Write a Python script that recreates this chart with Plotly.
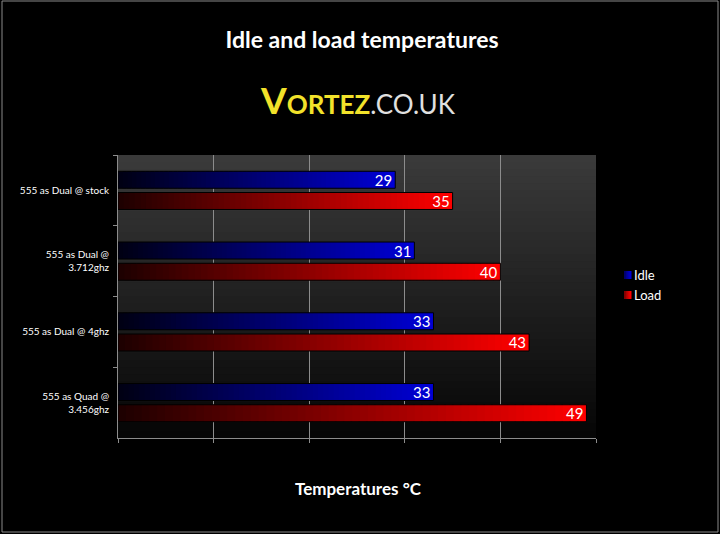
import plotly.graph_objects as go

# Idle / load temperatures (°C) per CPU configuration
configs = [
    "555 as Dual @ stock",
    "555 as Dual @<br>3.712ghz",
    "555 as Dual @ 4ghz",
    "555 as Quad @<br>3.456ghz",
]
idle_temps = [29, 31, 33, 33]
load_temps = [35, 40, 43, 49]

W, H = 720, 534
# plot area in px: x 118..596, y 155..438
L, T = 118, 155
R, B = W - 596, H - 438
PW, PH = W - L - R, H - T - B

N_SEG = 60  # slices per bar to fake the horizontal gradient


def lerp(c0, c1, f):
    return "rgb(%d,%d,%d)" % tuple(round(a + (b - a) * f) for a, b in zip(c0, c1))


def px_x(px):
    # page x pixel -> paper coordinate
    return (px - L) / PW


def px_y(py):
    # page y pixel -> paper coordinate
    return (H - B - py) / PH


def gradient_bar(values, name, c0, c1, group):
    traces = []
    for i in range(N_SEG):
        f = (i + 0.5) / N_SEG
        end = min(i + 1.8, N_SEG)  # overlap next slice to hide seams
        traces.append(go.Bar(
            y=configs,
            x=[v * (end - i) / N_SEG for v in values],
            base=[v * i / N_SEG for v in values],
            orientation="h",
            offsetgroup=group,
            marker=dict(color=lerp(c0, c1, f), line=dict(width=0)),
            name=name,
            showlegend=False,
            hoverinfo="skip",
        ))
    # outline + value label on top
    traces.append(go.Bar(
        y=configs,
        x=values,
        orientation="h",
        offsetgroup=group,
        marker=dict(color="rgba(0,0,0,0)", line=dict(color="#000000", width=1)),
        text=[str(v) for v in values],
        textposition="inside",
        insidetextanchor="end",
        textangle=0,
        constraintext="none",
        textfont=dict(color="white", size=15, family="Lato"),
        name=name,
        showlegend=False,
        hovertemplate="%{y}: %{x}°C<extra>" + name + "</extra>",
    ))
    return traces


IDLE_C0, IDLE_C1 = (0, 0, 18), (0, 0, 214)
LOAD_C0, LOAD_C1 = (28, 0, 0), (255, 0, 0)

fig = go.Figure()
for t in gradient_bar(idle_temps, "Idle", IDLE_C0, IDLE_C1, "idle"):
    fig.add_trace(t)
for t in gradient_bar(load_temps, "Load", LOAD_C0, LOAD_C1, "load"):
    fig.add_trace(t)

# plot area background: vertical grey -> black gradient
shapes = []
n_strips = 40
for k in range(n_strips):
    f = k / (n_strips - 1)
    g = round(58 - 52 * f)
    shapes.append(dict(
        type="rect", xref="x domain", yref="y domain",
        x0=0, x1=1,
        y0=max(0, 1 - (k + 1.6) / n_strips), y1=1 - k / n_strips,
        fillcolor="rgb(%d,%d,%d)" % (g, g, g), line=dict(width=0), layer="below",
    ))

# thin grey frame round the whole chart
shapes.append(dict(
    type="rect", xref="paper", yref="paper",
    x0=px_x(2), x1=px_x(W - 2), y0=px_y(H - 2), y1=px_y(1),
    line=dict(color="#8a8a8a", width=1), layer="above",
))

# small legend on the right (squares + labels)
annotations = []
legend_items = [("Idle", IDLE_C0, IDLE_C1, 275), ("Load", LOAD_C0, LOAD_C1, 295)]
for label, c0, c1, yc in legend_items:
    for j in range(4):
        shapes.append(dict(
            type="rect", xref="paper", yref="paper",
            x0=px_x(624 + j * 1.75), x1=px_x(624 + (j + 1) * 1.75 + 0.5),
            y0=px_y(yc + 4), y1=px_y(yc - 4),
            fillcolor=lerp(c0, c1, 0.45 + 0.55 * j / 3), line=dict(width=0),
        ))
    annotations.append(dict(
        text=label, xref="paper", yref="paper",
        x=px_x(632), y=px_y(yc), xanchor="left", yanchor="middle",
        showarrow=False, font=dict(size=13, color="white", family="Lato"),
    ))

annotations += [
    dict(
        text="<b><span style='color:#f2e22a;font-size:37px'>V</span>"
             "<span style='color:#f2e22a'>ORTEZ</span></b>"
             "<span style='color:#e0e0e0'>.CO.UK</span>",
        xref="paper", yref="paper",
        x=px_x(358), y=px_y(100),
        xanchor="center", yanchor="middle",
        showarrow=False,
        font=dict(size=26, family="Lato"),
    ),
    dict(
        text="<b>Temperatures °C</b>",
        xref="paper", yref="paper",
        x=px_x(358), y=px_y(488),
        xanchor="center", yanchor="middle",
        showarrow=False,
        font=dict(size=17, color="white", family="Lato"),
    ),
]

fig.update_layout(
    width=W, height=H,
    margin=dict(l=L, r=R, t=T, b=B),
    paper_bgcolor="black",
    plot_bgcolor="black",
    font=dict(family="Lato", color="white", size=10),
    barmode="group",
    bargap=0.4,
    bargroupgap=0.2,
    shapes=shapes,
    annotations=annotations,
    showlegend=False,
    title=dict(
        text="<b>Idle and load temperatures</b>",
        x=362 / W, xanchor="center",
        y=1 - 40 / H, yanchor="middle", yref="container",
        font=dict(size=23, color="white", family="Lato"),
    ),
)

fig.update_xaxes(
    range=[0, 50], dtick=10,
    showticklabels=False,
    showgrid=True, gridcolor="#8c8c8c", gridwidth=1,
    zeroline=False,
    showline=True, linecolor="#8c8c8c",
    ticks="outside", ticklen=4, tickcolor="#8c8c8c",
    automargin=False,
    fixedrange=True,
)
fig.update_yaxes(
    autorange="reversed",
    tickson="boundaries",
    ticks="outside", ticklen=4, tickcolor="#8c8c8c",
    showgrid=False,
    showline=True, linecolor="#8c8c8c",
    tickfont=dict(size=10, color="white", family="Lato"),
    ticklabelstandoff=6,
    automargin=False,
    fixedrange=True,
)

# let the figure sit flush in the window on a black page
fig.write_html(
    "out.html",
    config={"displayModeBar": False},
    post_script="document.body.style.margin='0';document.body.style.background='black';",
)
